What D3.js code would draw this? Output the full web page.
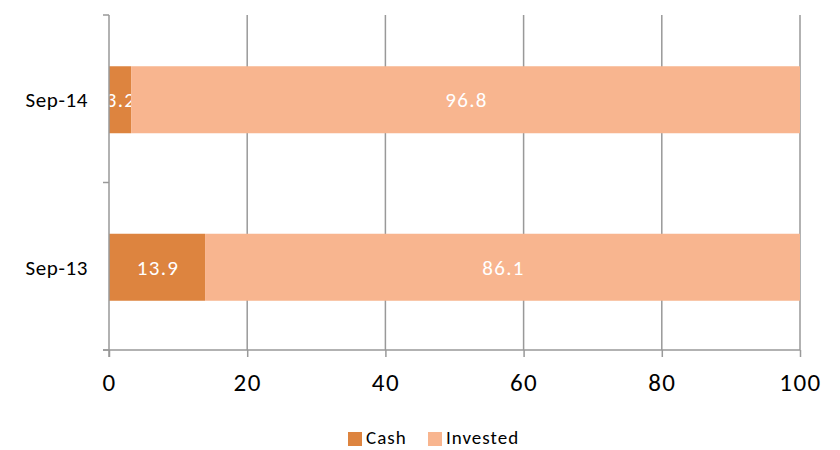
<!DOCTYPE html>
<html><head><meta charset="utf-8">
<script src="https://cdn.jsdelivr.net/npm/d3@7"></script>
<style>body{margin:0;background:#fff;}svg{display:block;font-family:Carlito,Lato,"Open Sans",sans-serif;}</style>
</head><body><svg id="c" width="840" height="450"></svg>
<script>
const categories = ["Sep-14", "Sep-13"];
const seriesNames = ["Cash", "Invested"];
const cash = [3.2, 13.9];
const invested = [96.8, 86.1];
const xTicks = [0, 20, 40, 60, 80, 100];
const colors = ["#DD843F", "#F8B58F"];

const svg = d3.select("#c");
const m = {l: 109, t: 15};
const x = d3.scaleLinear().domain([0, 100]).range([m.l, 800]);
const y = d3.scaleBand().domain(categories).range([m.t, 350]).paddingInner(0.6).paddingOuter(0.3);

const rows = categories.map((c, i) => ({cat: c, Cash: cash[i], Invested: invested[i]}));
const stack = d3.stack().keys(seriesNames)(rows);

// gridlines
svg.append("g").selectAll("line").data(xTicks.slice(1)).join("line")
  .attr("x1", d => x(d)).attr("x2", d => x(d)).attr("y1", 15).attr("y2", 350)
  .attr("stroke", "#999").attr("stroke-width", 1.5);

// bars
stack.forEach((s, si) => {
  svg.append("g").selectAll("rect").data(s).join("rect")
    .attr("x", d => x(d[0])).attr("width", d => x(d[1]) - x(d[0]))
    .attr("y", d => y(d.data.cat) + 1).attr("height", y.bandwidth())
    .attr("fill", colors[si]);
  svg.append("g").selectAll("text").data(s).join("text")
    .attr("x", d => (x(d[0]) + x(d[1])) / 2 + 1)
    .attr("y", d => y(d.data.cat) + y.bandwidth() / 2 + 1)
    .attr("dy", "0.36em").attr("text-anchor", "middle")
    .attr("fill", "#fff").attr("font-size", 21).attr("letter-spacing", 1.3)
    .text(d => (d[1] - d[0]).toFixed(1));
});

// x axis
const xa = svg.append("g").attr("transform", "translate(0,350)")
  .call(d3.axisBottom(x).tickValues(xTicks).tickSize(7).tickPadding(16));
xa.selectAll("line").attr("stroke", "#999").attr("stroke-width", 1.5);
xa.select(".domain").attr("stroke", "#999").attr("stroke-width", 1.5).attr("d", `M${x(0)-6},0H${x(100)}`);
xa.selectAll("text").attr("font-size", 25).attr("fill", "#000").attr("letter-spacing", 1.5)
  .attr("font-family", "Carlito,Lato,'Open Sans',sans-serif");

// y axis
const yg = svg.append("g").attr("transform", `translate(${x(0)},0)`);
yg.append("line").attr("x1", 0).attr("x2", 0).attr("y1", 15).attr("y2", 357).attr("stroke", "#999").attr("stroke-width", 1.5);
const yTickPos = [15, ...categories.map((c, i) => y.step() * (i + 1) + 15)];
yg.selectAll("line.t").data(yTickPos).join("line").attr("class", "t")
  .attr("x1", -6).attr("x2", 0).attr("y1", d => d).attr("y2", d => d).attr("stroke", "#999").attr("stroke-width", 1.5);
yg.selectAll("text").data(categories).join("text")
  .attr("x", -21).attr("y", d => y(d) + y.bandwidth() / 2 + 1).attr("dy", "0.36em")
  .attr("text-anchor", "end").attr("font-size", 21).attr("letter-spacing", 0.6).attr("fill", "#000").text(d => d);

// legend
const lg = svg.append("g");
const lx = [348, 428];
seriesNames.forEach((n, i) => {
  lg.append("rect").attr("x", lx[i]).attr("y", 432).attr("width", 14).attr("height", 14).attr("fill", colors[i]);
  lg.append("text").attr("x", lx[i] + 18).attr("y", 444).attr("font-size", 19).attr("letter-spacing", 1).attr("fill", "#000").text(n);
});
</script></body></html>
